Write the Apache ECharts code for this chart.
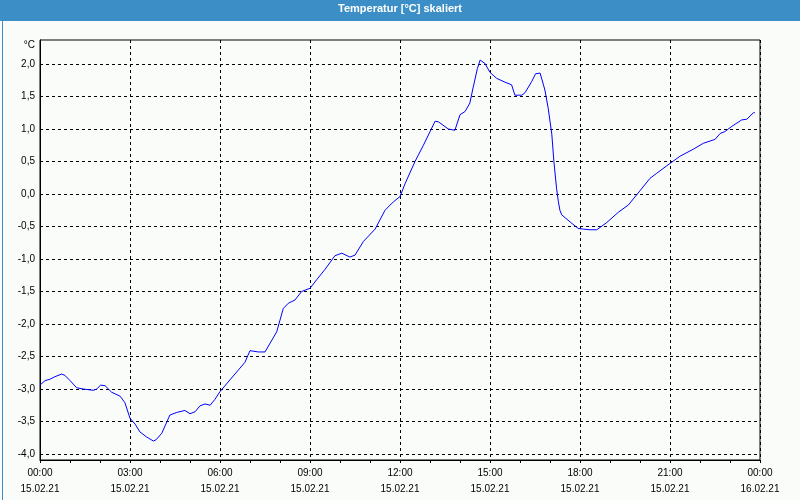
<!DOCTYPE html>
<html>
<head>
<meta charset="utf-8">
<script src="https://cdn.jsdelivr.net/npm/echarts@6/dist/echarts.min.js"></script>
<style>
html,body{margin:0;padding:0;background:#FAFCFA;}
#chart{width:800px;height:500px;}
</style>
</head>
<body>
<div id="chart"></div>
<script>
// Title and axis texts
const chartTitle = 'Temperatur [°C] skaliert';
const unitLabel = '°C';
const startDate = '15.02.21';
const endDate = '16.02.21';

// Time in hours since 15.02.21 00:00
const hours = [
  0.00, 0.17, 0.33, 0.50, 0.72, 0.83, 1.00, 1.22, 1.44, 1.78,
  1.89, 2.02, 2.17, 2.39, 2.67, 2.83, 3.00, 3.17, 3.33, 3.56,
  3.78, 3.87, 4.06, 4.33, 4.56, 4.83, 5.00, 5.17, 5.33, 5.50,
  5.67, 5.83, 6.00, 6.33, 6.83, 7.00, 7.28, 7.50, 7.89, 8.11,
  8.28, 8.50, 8.72, 9.00, 9.22, 9.50, 9.83, 10.06, 10.33, 10.50,
  10.78, 11.17, 11.50, 11.78, 12.00, 12.17, 12.50, 12.78, 13.17, 13.28,
  13.61, 13.83, 14.00, 14.17, 14.33, 14.42, 14.58, 14.67, 14.83, 15.00,
  15.22, 15.50, 15.72, 15.83, 16.06, 16.17, 16.39, 16.52, 16.67, 16.83,
  16.94, 17.06, 17.13, 17.22, 17.28, 17.33, 17.39, 17.67, 17.94, 18.11,
  18.33, 18.56, 18.89, 19.28, 19.61, 20.00, 20.33, 20.56, 21.00, 21.33,
  21.78, 22.11, 22.50, 22.67, 22.83, 23.06, 23.39, 23.56, 23.78, 23.83
];
// Temperature in °C
const temps = [
  -2.94, -2.87, -2.85, -2.81, -2.77, -2.79, -2.87, -2.98, -3.00, -3.02,
  -3.00, -2.94, -2.95, -3.05, -3.11, -3.21, -3.45, -3.54, -3.66, -3.74,
  -3.80, -3.78, -3.68, -3.40, -3.36, -3.33, -3.38, -3.35, -3.26, -3.23,
  -3.25, -3.16, -3.04, -2.86, -2.59, -2.41, -2.43, -2.43, -2.12, -1.76,
  -1.68, -1.63, -1.50, -1.45, -1.32, -1.16, -0.95, -0.91, -0.97, -0.94,
  -0.73, -0.54, -0.25, -0.12, -0.04, 0.16, 0.50, 0.75, 1.12, 1.11,
  1.00, 0.98, 1.22, 1.27, 1.40, 1.60, 1.93, 2.06, 2.01, 1.87,
  1.78, 1.72, 1.68, 1.52, 1.52, 1.56, 1.73, 1.85, 1.86, 1.60,
  1.32, 0.92, 0.50, 0.08, -0.12, -0.25, -0.32, -0.43, -0.53, -0.54,
  -0.55, -0.55, -0.44, -0.28, -0.17, 0.05, 0.24, 0.32, 0.47, 0.58,
  0.69, 0.78, 0.84, 0.93, 0.96, 1.04, 1.14, 1.15, 1.25, 1.25
];
// Y tick labels
const yTicks = [-4.0, -3.5, -3.0, -2.5, -2.0, -1.5, -1.0, -0.5, 0.0, 0.5, 1.0, 1.5, 2.0];

const chart = echarts.init(document.getElementById('chart'), null, {renderer: 'canvas'});
const fontFam = '"Liberation Sans", Arial, sans-serif';
const dash = [3, 3];

chart.setOption({
  animation: false,
  backgroundColor: '#FAFCFA',
  grid: {
    left: 40, right: 40, top: 40, bottom: 40,
    show: true, borderColor: '#000', borderWidth: 1, backgroundColor: '#FAFCFA'
  },
  graphic: [
    {type: 'rect', left: 0, top: 0, shape: {width: 800, height: 21}, style: {fill: '#3C8FC6'}, z: 10},
    {type: 'rect', left: 0, top: 0, shape: {x: 0.5, y: 0.5, width: 799, height: 499}, style: {fill: null, stroke: '#3C8FC6', lineWidth: 1}, z: 10},
    {type: 'text', x: 400, y: 9, z: 11, style: {text: chartTitle, fill: '#fff', font: 'bold 11px ' + fontFam, textAlign: 'center', textVerticalAlign: 'middle'}},
    {type: 'text', x: 35, y: 45, z: 11, style: {text: unitLabel, fill: '#000', font: '10px ' + fontFam, textAlign: 'right', textVerticalAlign: 'middle'}}
  ],
  xAxis: {
    type: 'value', min: 0, max: 24, interval: 3,
    axisLine: {show: true, onZero: false, lineStyle: {color: '#000', width: 1}},
    axisTick: {show: true, inside: false, length: 3, lineStyle: {color: '#000'}},
    minorTick: {show: true, splitNumber: 3, length: 3, lineStyle: {color: '#000'}},
    splitLine: {show: true, lineStyle: {color: '#000', type: dash, width: 1}},
    minorSplitLine: {show: false},
    axisLabel: {
      margin: 5, color: '#000', fontFamily: fontFam, fontSize: 10, lineHeight: 16,
      formatter: function (v) {
        const h = Math.round(v);
        const hh = String(h % 24).padStart(2, '0');
        return hh + ':00\n' + (h >= 24 ? endDate : startDate);
      }
    }
  },
  yAxis: {
    type: 'value', min: -4.092, max: 2.369,
    axisLine: {show: true, onZero: false, lineStyle: {color: '#000', width: 1}},
    axisTick: {show: false, customValues: yTicks},
    splitLine: {show: true, lineStyle: {color: '#000', type: dash, width: 1}},
    axisLabel: {
      customValues: yTicks, margin: 5, color: '#000', fontFamily: fontFam, fontSize: 10,
      formatter: function (v) { return v.toFixed(1).replace('.', ','); }
    }
  },
  series: [{
    type: 'line',
    data: hours.map((h, i) => [h, temps[i]]),
    showSymbol: false,
    symbol: 'none',
    lineStyle: {color: '#0000FF', width: 1},
    clip: false
  }]
});
</script>
</body>
</html>
